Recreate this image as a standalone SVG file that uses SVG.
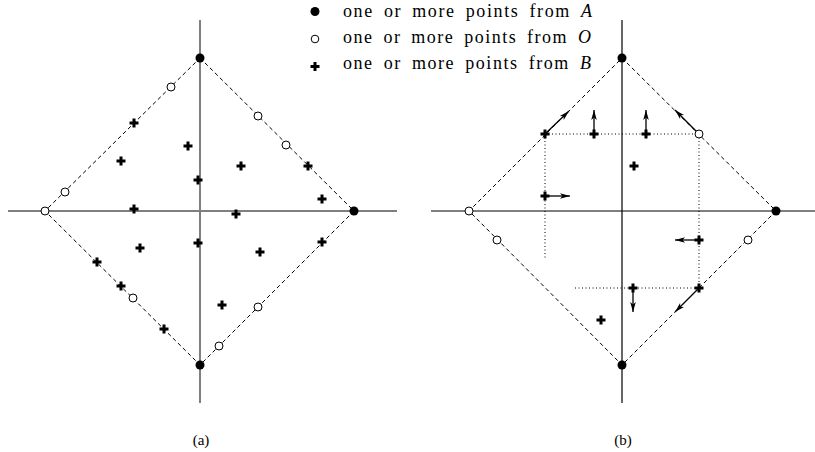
<svg xmlns="http://www.w3.org/2000/svg" width="815" height="452" viewBox="0 0 815 452">
<style>
.axis{stroke:#000;stroke-width:1.2;fill:none}
.axisg{stroke:#808080;stroke-width:2;fill:none}
.dash{stroke:#000;stroke-width:1;stroke-dasharray:4 3;fill:none}
.dot{stroke:#000;stroke-width:1;stroke-dasharray:1 2.5;fill:none}
.arr{stroke:#000;stroke-width:1.3;fill:none;marker-end:url(#ah)}
.fc{fill:#000}
.oc{fill:#fff;stroke:#000;stroke-width:1}
</style>
<defs>
<marker id="ah" markerUnits="userSpaceOnUse" markerWidth="12" markerHeight="8" refX="10" refY="4" orient="auto" overflow="visible">
<path d="M0,1.2 L10,4 L0,6.8 L2.5,4 z" fill="#000"/>
</marker>
<path id="plus" d="M-4.5,0 H4.5 M0,-4.5 V4.5" stroke="#000" stroke-width="3" fill="none"/>
</defs>

<g id="legend">
<circle class="fc" cx="315" cy="11.5" r="4.5"/>
<circle class="oc" cx="315" cy="39" r="3.8"/>
<use href="#plus" x="315" y="66.5"/>
<text x="343" y="17" font-family="Liberation Serif, serif" font-size="18" word-spacing="4" textLength="249" lengthAdjust="spacing">one or more points from <tspan font-style="italic">A</tspan></text>
<text x="343" y="43" font-family="Liberation Serif, serif" font-size="18" word-spacing="4" textLength="248" lengthAdjust="spacing">one or more points from <tspan font-style="italic">O</tspan></text>
<text x="343" y="69" font-family="Liberation Serif, serif" font-size="18" word-spacing="4" textLength="248" lengthAdjust="spacing">one or more points from <tspan font-style="italic">B</tspan></text>
</g>

<g id="panel-a">
<line class="axis" x1="8" y1="211" x2="397" y2="211"/>
<line class="axisg" x1="200" y1="20" x2="200" y2="403"/>
<polygon class="dash" points="200,58 354,211 200,365 45,211"/>
<g id="a-points">
<circle class="fc" cx="200" cy="58" r="4.5"/>
<circle class="fc" cx="354" cy="211" r="4.5"/>
<circle class="fc" cx="200" cy="365" r="4.5"/>
<circle class="oc" cx="45" cy="211" r="4"/>
<circle class="oc" cx="171" cy="87" r="4"/>
<circle class="oc" cx="258" cy="116" r="4"/>
<circle class="oc" cx="286" cy="145" r="4"/>
<circle class="oc" cx="65" cy="192" r="4"/>
<circle class="oc" cx="133" cy="298" r="4"/>
<circle class="oc" cx="258" cy="307" r="4"/>
<circle class="oc" cx="219" cy="346" r="4"/>
<use href="#plus" x="134" y="123"/>
<use href="#plus" x="188" y="146"/>
<use href="#plus" x="121" y="161"/>
<use href="#plus" x="241" y="166"/>
<use href="#plus" x="198" y="180"/>
<use href="#plus" x="308" y="166"/>
<use href="#plus" x="322" y="199"/>
<use href="#plus" x="134" y="209"/>
<use href="#plus" x="236" y="214"/>
<use href="#plus" x="322" y="242"/>
<use href="#plus" x="198" y="243"/>
<use href="#plus" x="140" y="248"/>
<use href="#plus" x="260" y="252"/>
<use href="#plus" x="97" y="262"/>
<use href="#plus" x="121" y="286"/>
<use href="#plus" x="222" y="305"/>
<use href="#plus" x="164" y="329"/>
</g>
<text x="201" y="445" font-family="Liberation Serif, serif" font-size="15" text-anchor="middle">(a)</text>
</g>

<g id="panel-b">
<line class="axis" x1="431" y1="211" x2="815" y2="211"/>
<line class="axis" x1="622" y1="20" x2="622" y2="403"/>
<polygon class="dash" points="622,58 776,211 622,365 469,211"/>
<g id="connectors">
<line class="dot" x1="545" y1="134" x2="699" y2="134"/>
<line class="dot" x1="545" y1="134" x2="545" y2="258"/>
<line class="dot" x1="699" y1="134" x2="699" y2="288"/>
<line class="dot" x1="575" y1="288" x2="699" y2="288"/>
<line class="arr" x1="545" y1="134" x2="569" y2="111"/>
<line class="arr" x1="594" y1="134" x2="594" y2="110"/>
<line class="arr" x1="646" y1="134" x2="646" y2="110"/>
<line class="arr" x1="699" y1="134" x2="675" y2="110"/>
<line class="arr" x1="545" y1="196" x2="570" y2="196"/>
<line class="arr" x1="699" y1="240" x2="675" y2="240"/>
<line class="arr" x1="699" y1="288" x2="675" y2="312"/>
<line class="arr" x1="633" y1="288" x2="633" y2="312"/>
</g>
<g id="b-points">
<circle class="fc" cx="622" cy="58" r="4.5"/>
<circle class="fc" cx="776" cy="211" r="4.5"/>
<circle class="fc" cx="622" cy="365" r="4.5"/>
<circle class="oc" cx="469" cy="211" r="4"/>
<circle class="oc" cx="699" cy="134" r="4"/>
<circle class="oc" cx="497" cy="240" r="4"/>
<circle class="oc" cx="748" cy="240" r="4"/>
<use href="#plus" x="545" y="134"/>
<use href="#plus" x="594" y="134"/>
<use href="#plus" x="646" y="134"/>
<use href="#plus" x="634" y="166"/>
<use href="#plus" x="545" y="196"/>
<use href="#plus" x="699" y="240"/>
<use href="#plus" x="699" y="288"/>
<use href="#plus" x="633" y="288"/>
<use href="#plus" x="601" y="320"/>
</g>
<text x="623" y="445" font-family="Liberation Serif, serif" font-size="15" text-anchor="middle">(b)</text>
</g>
</svg>
